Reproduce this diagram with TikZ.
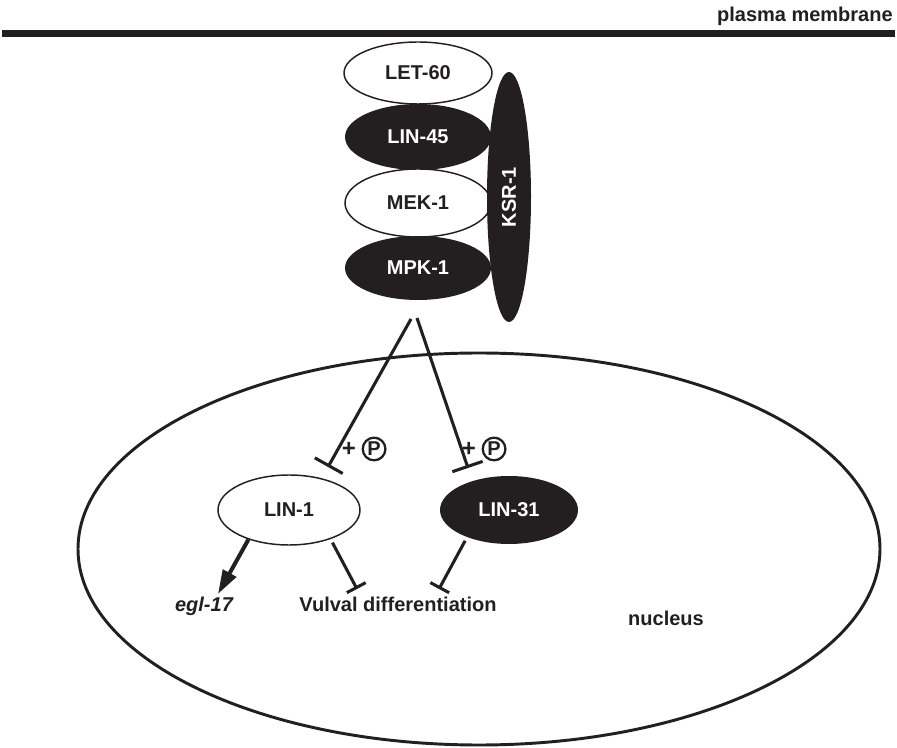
\documentclass[tikz,border=0pt]{standalone}
\usepackage{fontspec}
\setmainfont{Liberation Sans}
\usetikzlibrary{arrows.meta,positioning,shapes.geometric,calc}
\definecolor{ink}{HTML}{231F20}

\begin{document}
\begin{tikzpicture}[x=0.75pt,y=-0.75pt,
    lbl/.style={font=\fontsize{15}{18}\selectfont\bfseries, text=ink, inner sep=0pt},
    wprot/.style={ellipse, draw=ink, fill=white, line width=1.1pt, inner sep=0pt, lbl},
    bprot/.style={ellipse, fill=ink, inner sep=0pt, lbl, text=white},
    link/.style={draw=ink, line width=2.3pt},
    inhib/.style={link, -{Bar[width=24pt]}},
    inhibs/.style={link, shorten <=3pt, -{Bar[width=16pt]}},
    activ/.style={draw=ink, line width=3pt, -{Triangle[length=18pt,width=11pt]}},
    phos/.style={circle, draw=ink, line width=1.7pt, minimum size=17pt, inner sep=0pt,
      font=\fontsize{15}{15}\selectfont\bfseries, text=ink}]
  \useasboundingbox (0,0) rectangle (897,748);

  % nucleus and membrane
  \draw[ink, line width=2.2pt] (479,549) ellipse [x radius=401, y radius=196];
  \fill[ink] (2,30) rectangle (895,37);
  \node[lbl, anchor=base east] (pmlabel) at (893,22) {plasma membrane};

  % kinase cascade
  \node[wprot, minimum width=111pt, minimum height=46.5pt] (let60) at (418,73) {LET-60};
  \node[bprot, minimum width=109.5pt, minimum height=49.5pt] (lin45) at (418,137) {LIN-45};
  \node[wprot, minimum width=109.5pt, minimum height=51pt] (mek1) at (418,203) {MEK-1};
  \node[bprot, minimum width=109.5pt, minimum height=48pt] (mpk1) at (418,268) {MPK-1};
  \node[bprot, rotate=90, minimum width=187.5pt, minimum height=33pt] (ksr1) at (509,197) {KSR-1};

  % nuclear targets
  \node[wprot, minimum width=106.5pt, minimum height=52.5pt] (lin1) at (289,510) {LIN-1};
  \node[bprot, minimum width=103.5pt, minimum height=51pt] (lin31) at (509,510) {LIN-31};

  \coordinate (forkL) at (411,319);
  \coordinate (forkR) at (417,318);
  \coordinate (lin1hit) at (328,467);
  \coordinate (lin31hit) at (468,468);
  \draw[inhib] (forkL) -- (lin1hit);
  \draw[inhib] (forkR) -- (lin31hit);

  \node[lbl, font=\fontsize{18}{18}\selectfont\bfseries] (plusL) at (349,449) {+};
  \node[phos, right=4pt of plusL] (pL) {P};
  \node[lbl, font=\fontsize{18}{18}\selectfont\bfseries] (plusR) at (469,449) {+};
  \node[phos, right=4pt of plusR] (pR) {P};

  % outputs
  \node[lbl, font=\fontsize{15}{18}\selectfont\bfseries\itshape, anchor=base] (egl) at (204,612) {egl-17};
  \node[lbl, anchor=base] (vulval) at (398,612) {Vulval differentiation};
  \node[lbl, anchor=base] (nuclabel) at (666,626) {nucleus};

  \coordinate (eglhit) at (218,594);
  \coordinate (vulL) at (357,589);
  \coordinate (vulR) at (439,589);
  \draw[activ] (lin1.216) -- (eglhit);
  \draw[inhibs] (lin1.-35) -- (vulL);
  \draw[inhibs] (lin31.213) -- (vulR);
\end{tikzpicture}
\end{document}
